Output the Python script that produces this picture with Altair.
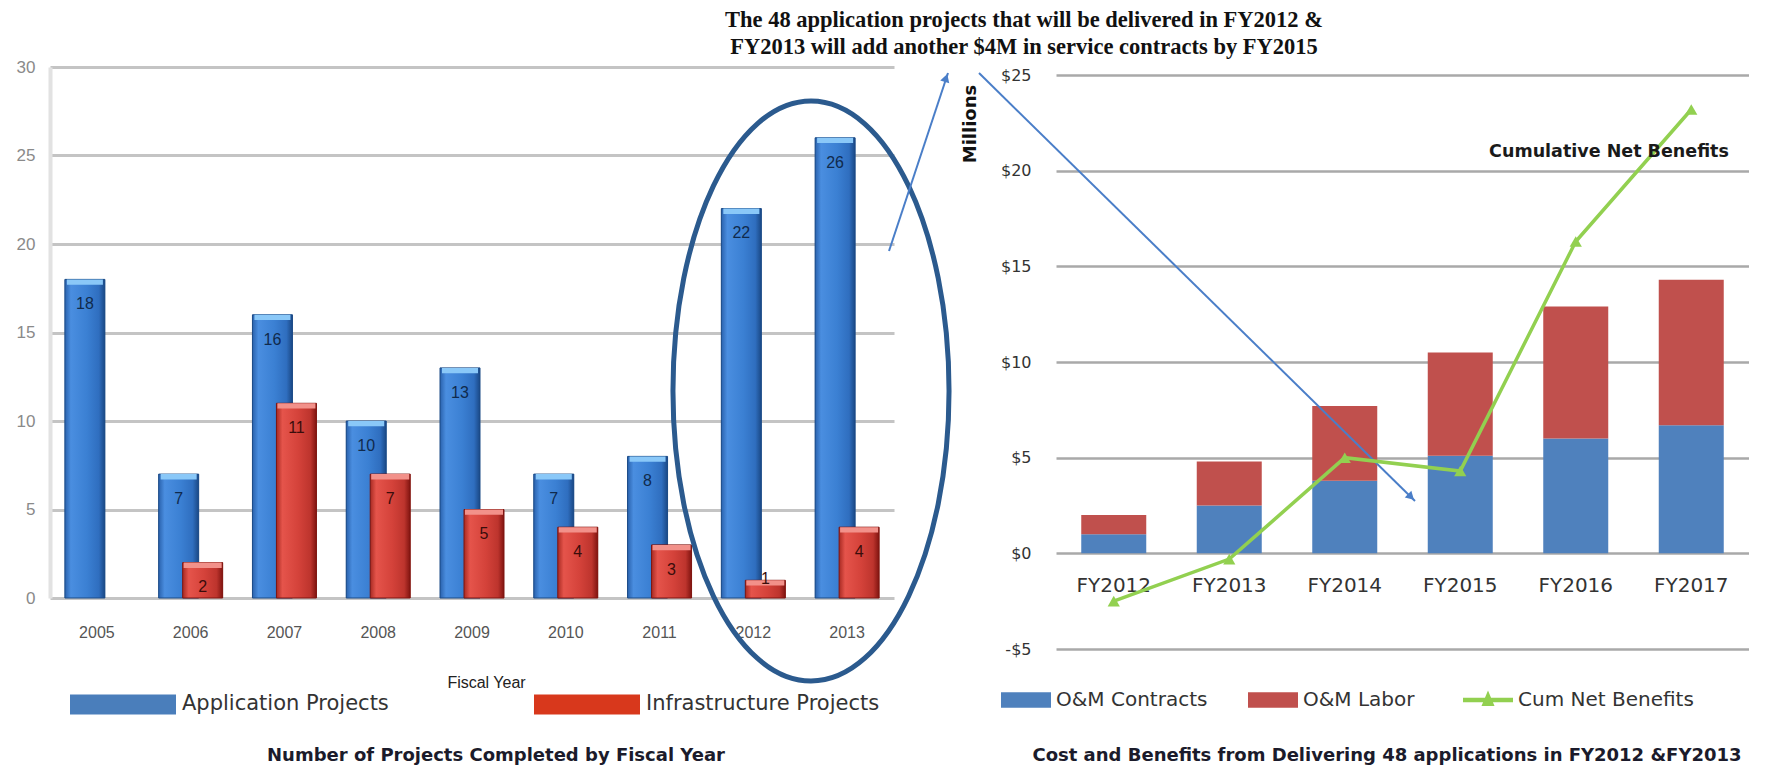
import altair as alt
import pandas as pd

# ---------------- data ----------------
years = ["2005", "2006", "2007", "2008", "2009", "2010", "2011", "2012", "2013"]
app_projects = [18, 7, 16, 10, 13, 7, 8, 22, 26]
infra_projects = [0, 2, 11, 7, 5, 4, 3, 1, 4]
left_series = ["Application Projects", "Infrastructure Projects"]
left_ticks = [0, 5, 10, 15, 20, 25, 30]

fiscal_years = ["FY2012", "FY2013", "FY2014", "FY2015", "FY2016", "FY2017"]
om_contracts = [1.0, 2.5, 3.8, 5.1, 6.0, 6.7]
om_labor = [1.0, 2.3, 3.9, 5.4, 6.9, 7.6]
cum_net_benefits = [-2.5, -0.3, 5.0, 4.3, 16.3, 23.2]
bar_series = ["O&M Contracts", "O&M Labor"]
line_series = ["Cum Net Benefits"]
right_ticks = [-5, 0, 5, 10, 15, 20, 25]

note_lines = [
    "The 48 application projects that will be delivered in FY2012 &",
    "FY2013 will add  another $4M in service contracts by FY2015",
]
left_title = "Number of Projects Completed by Fiscal Year"
right_title = "Cost and Benefits from Delivering 48 applications in FY2012  &FY2013"
line_note = "Cumulative Net Benefits"
unit_note = "Millions"

# ---------------- tables ----------------
left_df = pd.DataFrame({
    "year": years * 2,
    "series": [left_series[0]] * len(years) + [left_series[1]] * len(years),
    "value": app_projects + infra_projects,
})
right_bar_df = pd.DataFrame({
    "fy": fiscal_years * 2,
    "series": [bar_series[0]] * len(fiscal_years) + [bar_series[1]] * len(fiscal_years),
    "value": om_contracts + om_labor,
})
right_line_df = pd.DataFrame({
    "fy": fiscal_years,
    "series": line_series * len(fiscal_years),
    "value": cum_net_benefits,
})
one = pd.DataFrame({"k": [0]})

# ---------------- styles ----------------
SANS = "DejaVu Sans"
LW, LH = 844, 531
RW, RH = 693, 582
GREEN = "#92d050"

blue_grad = {"gradient": "linear", "x1": 0, "x2": 1, "y1": 0, "y2": 0,
             "stops": [{"offset": 0, "color": "#2a62ad"},
                       {"offset": 0.15, "color": "#4a8ee0"},
                       {"offset": 0.55, "color": "#3b80d3"},
                       {"offset": 0.85, "color": "#2f6ebf"},
                       {"offset": 1, "color": "#1a4885"}]}
red_grad = {"gradient": "linear", "x1": 0, "x2": 1, "y1": 0, "y2": 0,
            "stops": [{"offset": 0, "color": "#a82a22"},
                      {"offset": 0.15, "color": "#e5544b"},
                      {"offset": 0.55, "color": "#d4423a"},
                      {"offset": 0.85, "color": "#bd342d"},
                      {"offset": 1, "color": "#801410"}]}

rect_left = "M-1,-0.19L1,-0.19L1,0.19L-1,0.19Z"
rect_right = "M-1,-0.31L1,-0.31L1,0.31L-1,0.31Z"
line_sym = "M-1,-0.09L1,-0.09L1,0.09L-1,0.09Z M0,-0.38L0.26,0.24L-0.26,0.24Z"
ellipse_path = ("M0,-1 C0.2629,-1 0.476,-0.5523 0.476,0 C0.476,0.5523 0.2629,1 0,1 "
                "C-0.2629,1 -0.476,0.5523 -0.476,0 C-0.476,-0.5523 -0.2629,-1 0,-1 Z")

# ---------------- left chart ----------------
x_left = alt.X("year:N", scale=alt.Scale(domain=years, paddingInner=0, paddingOuter=0),
               axis=alt.Axis(labelAngle=0, domain=False, ticks=False, labelPadding=26,
                             labelFont="Liberation Sans", labelFontSize=16, labelColor="#555555",
                             title="Fiscal Year", titleFont="Liberation Sans", titleFontSize=16,
                             titleFontWeight="normal", titleColor="#222222",
                             titleX=436, titleY=84, titleBaseline="middle"))
y_scale_left = alt.Scale(domain=[0, 30], nice=False)
y_left = alt.Y("value:Q", scale=y_scale_left, title=None,
               axis=alt.Axis(values=left_ticks, grid=True, gridColor="#c4c4c4", gridWidth=3,
                             domain=True, domainColor="#e2e2e2", domainWidth=4, ticks=False,
                             labelPadding=15, labelFont="Liberation Sans", labelFontSize=17,
                             labelColor="#8a8a8a"))

left_legend = alt.Legend(orient="none", legendX=20, legendY=584, direction="horizontal",
                         title=None, symbolType=rect_left, symbolSize=11236, symbolStrokeWidth=0,
                         symbolOpacity=1, labelFont=SANS, labelFontSize=21, labelColor="#333333",
                         labelOffset=6, labelLimit=500, columnPadding=145, padding=0)
color_left = alt.Color("series:N", scale=alt.Scale(domain=left_series, range=["#4a7ebb", "#d8381c"]),
                       legend=left_legend)

lbase = alt.Chart(left_df).transform_filter("datum.value > 0")
app = lbase.transform_filter(alt.datum.series == left_series[0])
inf = lbase.transform_filter(alt.datum.series == left_series[1])

app_base = app.mark_bar(width=40, xOffset=-12).encode(x=x_left, y=y_left, color=color_left)
inf_base = inf.mark_bar(width=40, xOffset=12).encode(x=x_left, y=y_left, color=color_left)
app_bar = app.mark_bar(width=40, xOffset=-12, fill=blue_grad, stroke="#1b4a86", strokeWidth=1).encode(
    x=x_left, y=y_left)
inf_bar = inf.mark_bar(width=40, xOffset=12, fill=red_grad, stroke="#7e1510", strokeWidth=1).encode(
    x=x_left, y=y_left)
app_cap = app.transform_calculate(cap="datum.value - 0.3").mark_bar(
    width=36, xOffset=-12, color="#8ac8f8").encode(
    x=x_left, y=alt.Y("value:Q", scale=y_scale_left, title=None), y2="cap:Q")
inf_cap = inf.transform_calculate(cap="datum.value - 0.3").mark_bar(
    width=38, xOffset=12, color="#f2918a").encode(
    x=x_left, y=alt.Y("value:Q", scale=y_scale_left, title=None), y2="cap:Q")
lab_expr = "datum.value >= 2 ? datum.value - 1.4 : datum.value + 0.1"
app_lab = app.transform_calculate(ly=lab_expr).mark_text(
    xOffset=-12, font="Liberation Sans", fontSize=16, color="#102a4c", baseline="middle").encode(
    x=x_left, y=alt.Y("ly:Q", scale=y_scale_left, title=None), text="value:Q")
inf_lab = inf.transform_calculate(ly=lab_expr).mark_text(
    xOffset=12, font="Liberation Sans", fontSize=16, color="#3a0d0b", baseline="middle").encode(
    x=x_left, y=alt.Y("ly:Q", scale=y_scale_left, title=None), text="value:Q")

ellipse = alt.Chart(one).mark_point(shape=ellipse_path, size=336400, filled=False, stroke="#2b5a8e",
                                    strokeWidth=5, opacity=1).encode(x=alt.value(761), y=alt.value(324))
arrow1 = alt.Chart(one).mark_rule(color="#4a7ec8", strokeWidth=2).encode(
    x=alt.value(839), y=alt.value(184), x2=alt.value(898), y2=alt.value(6))
arrow1_head = alt.Chart(one).mark_point(shape="triangle-up", filled=True, size=90, angle=18,
                                        color="#4a7ec8", opacity=1).encode(x=alt.value(896), y=alt.value(11))
note = alt.Chart(one).mark_text(text=note_lines, font="Liberation Serif", fontWeight="bold", fontSize=22.5,
                                lineHeight=27, align="center", baseline="middle", color="#111111").encode(
    x=alt.value(974), y=alt.value(-47.5))
ltitle = alt.Chart(one).mark_text(text=left_title, font=SANS, fontWeight="bold", fontSize=18,
                                  align="center", baseline="middle", color="#1b1b2b").encode(
    x=alt.value(446), y=alt.value(689))

left = alt.layer(app_base, inf_base, app_bar, inf_bar, app_cap, inf_cap, app_lab, inf_lab,
                 ellipse, arrow1, arrow1_head, note, ltitle).properties(width=LW, height=LH)

# ---------------- right chart ----------------
x_right = alt.X("fy:N", scale=alt.Scale(domain=fiscal_years, paddingInner=0, paddingOuter=0),
                axis=alt.Axis(labelAngle=0, domain=False, ticks=False, offset=-96, labelPadding=22,
                              labelFont=SANS, labelFontSize=20, labelColor="#333333", title=None))
y_scale_right = alt.Scale(domain=[-5, 25.42], nice=False)
y_right_axis = alt.Axis(values=right_ticks, grid=True, gridColor="#a9a9a9", gridWidth=2.5, domain=False,
                        ticks=False, labelPadding=25, labelFont=SANS, labelFontSize=16,
                        labelColor="#333333",
                        labelExpr="datum.value < 0 ? '-$' + abs(datum.value) : '$' + datum.value")

bar_legend = alt.Legend(orient="none", legendX=-55, legendY=608, direction="horizontal", title=None,
                        symbolType=rect_right, symbolSize=2500, symbolStrokeWidth=0, symbolOpacity=1,
                        labelFont=SANS, labelFontSize=20, labelColor="#333333", labelOffset=5,
                        labelLimit=400, columnPadding=40, padding=0)
line_legend = alt.Legend(orient="none", legendX=407, legendY=608, direction="horizontal", title=None,
                         symbolType=line_sym, symbolSize=2500, symbolStrokeWidth=0, symbolOpacity=1,
                         symbolFillColor=GREEN, labelFont=SANS, labelFontSize=20, labelColor="#333333",
                         labelOffset=5, labelLimit=400, padding=0)
color_scale_right = alt.Scale(domain=bar_series, range=["#4f81bd", "#c0504d"])

bars_r = alt.Chart(right_bar_df).transform_calculate(
    ord="indexof(['O&M Contracts','O&M Labor'], datum.series)").mark_bar(width=65).encode(
    x=x_right,
    y=alt.Y("value:Q", stack="zero", scale=y_scale_right, axis=y_right_axis, title=None),
    color=alt.Color("series:N", scale=color_scale_right, legend=bar_legend),
    order=alt.Order("ord:Q", sort="ascending"),
)
arrow2 = alt.Chart(one).mark_rule(color="#4a7ec8", strokeWidth=2).encode(
    x=alt.value(-77), y=alt.value(6), x2=alt.value(359), y2=alt.value(434))
arrow2_head = alt.Chart(one).mark_point(shape="triangle-up", filled=True, size=90, angle=134,
                                        color="#4a7ec8", opacity=1).encode(x=alt.value(355), y=alt.value(430))
line_r = alt.Chart(right_line_df).mark_line(strokeWidth=3.5, color=GREEN).encode(
    x=x_right, y=alt.Y("value:Q", scale=y_scale_right, title=None))
pts_r = alt.Chart(right_line_df).mark_point(shape="triangle-up", filled=True, size=150, color=GREEN).encode(
    x=x_right, y=alt.Y("value:Q", scale=y_scale_right, title=None),
    opacity=alt.Opacity("series:O", scale=alt.Scale(domain=line_series, range=[1]), legend=line_legend))
cum_note = alt.Chart(one).mark_text(text=line_note, font=SANS, fontWeight="bold", fontSize=17.5,
                                    align="center", baseline="middle", color="#1a1a1a").encode(
    x=alt.value(553), y=alt.value(85))
unit = alt.Chart(one).mark_text(text=unit_note, font=SANS, fontWeight="bold", fontSize=18, angle=270,
                                align="center", baseline="middle", color="#111111").encode(
    x=alt.value(-85), y=alt.value(57))
rtitle = alt.Chart(one).mark_text(text=right_title, font=SANS, fontWeight="bold", fontSize=18,
                                  align="center", baseline="middle", color="#1b1b2b").encode(
    x=alt.value(331), y=alt.value(689))

right = alt.layer(bars_r, arrow2, arrow2_head, line_r, pts_r, cum_note, unit, rtitle).properties(
    width=RW, height=RH)

chart = alt.hconcat(left, right, spacing=162, bounds="flush").resolve_scale(
    color="independent", opacity="independent"
).resolve_legend(color="independent", opacity="independent").properties(
    padding={"left": 8, "top": 0, "right": 0, "bottom": 0}
).configure_view(stroke=None)

chart.save("out.html", embed_options={"renderer": "svg", "actions": False})
